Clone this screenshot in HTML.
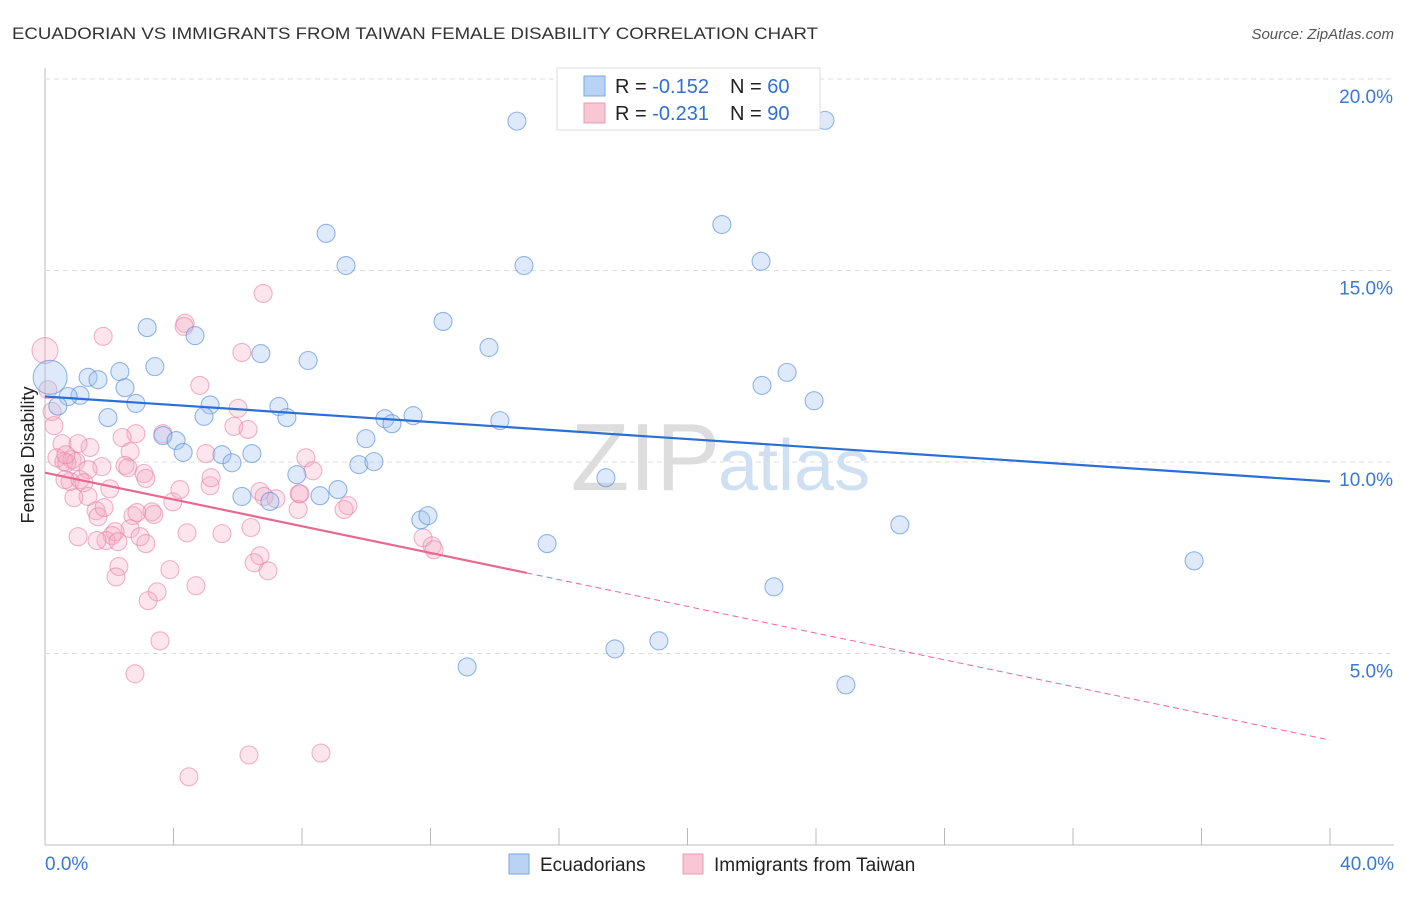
<!DOCTYPE html>
<html><head><meta charset="utf-8"><style>
body{margin:0;background:#fff;font-family:"Liberation Sans",sans-serif;}
svg text{font-family:"Liberation Sans",sans-serif;}
</style></head><body>
<svg id="chart" width="1406" height="892" xmlns="http://www.w3.org/2000/svg">
<text x="12" y="39" font-size="17" fill="#333" textLength="806" lengthAdjust="spacingAndGlyphs">ECUADORIAN VS IMMIGRANTS FROM TAIWAN FEMALE DISABILITY CORRELATION CHART</text>
<text x="1394" y="39" font-size="15" fill="#555" text-anchor="end" font-style="italic">Source: ZipAtlas.com</text>
<text x="34" y="455" font-size="18" fill="#222" text-anchor="middle" transform="rotate(-90 34 455)">Female Disability</text>
<g id="grid"></g>
<text x="720" y="490" font-size="96" fill="#ddd" text-anchor="end" font-family="Liberation Serif">ZIP</text>
<text x="718" y="490" font-size="72" fill="#d0e0f3">atlas</text>
<g id="points"></g>
<g id="lines"></g>
<g>
<rect x="557" y="68" width="263" height="62" fill="#fff" stroke="#ddd"/>
<rect x="584" y="76" width="21" height="20" fill="#b9d3f5" stroke="#7fa6e0"/>
<rect x="584" y="103" width="21" height="20" fill="#f9c6d6" stroke="#ec9ab3"/>
<text x="615" y="93" font-size="20" fill="#222">R = <tspan fill="#2f6fd6">-0.152</tspan></text>
<text x="730" y="93" font-size="20" fill="#222">N = <tspan fill="#2f6fd6">60</tspan></text>
<text x="615" y="120" font-size="20" fill="#222">R = <tspan fill="#2f6fd6">-0.231</tspan></text>
<text x="730" y="120" font-size="20" fill="#222">N = <tspan fill="#2f6fd6">90</tspan></text>
</g>
<g>
<rect x="509" y="854" width="20" height="20" fill="#b9d3f5" stroke="#7fa6e0"/>
<text x="540" y="871" font-size="19" fill="#222">Ecuadorians</text>
<rect x="683" y="854" width="20" height="20" fill="#f9c6d6" stroke="#ec9ab3"/>
<text x="714" y="871" font-size="19" fill="#222">Immigrants from Taiwan</text>
</g>
</svg>
<script>
const xTicks=[0,4,8,12,16,20,24,28,32,36,40];
const yTicks=[5,10,15,20];
const yTickLabels=["5.0%","10.0%","15.0%","20.0%"];
const blueX=[14.69,24.28,21.07,8.75,9.37,14.91,22.29,3.18,4.67,12.39,13.82,6.72,8.19,3.42,1.34,1.65,2.33,2.49,1.09,0.72,2.83,0.40,1.96,5.14,4.95,23.10,22.32,23.94,7.28,7.53,10.58,10.80,11.46,14.16,3.67,4.08,4.30,5.51,6.44,5.82,9.99,9.77,10.24,7.84,17.46,8.56,9.12,6.13,7.00,11.70,11.92,26.61,15.63,35.77,22.69,19.11,17.74,13.14,24.93,0.16];
const blueY=[18.90,18.92,16.20,15.97,15.13,15.13,15.24,13.51,13.30,13.67,12.99,12.83,12.65,12.49,12.21,12.15,12.36,11.94,11.74,11.71,11.53,11.46,11.16,11.49,11.19,12.34,12.00,11.60,11.45,11.16,11.13,11.00,11.21,11.08,10.69,10.56,10.25,10.19,10.22,9.98,10.61,9.93,10.01,9.67,9.59,9.12,9.28,9.10,8.97,8.49,8.60,8.36,7.87,7.42,6.74,5.33,5.12,4.65,4.18,12.21];
const pinkX=[6.79,1.81,4.36,4.33,6.13,4.82,0.0,0.09,0.22,0.28,2.83,2.40,0.53,1.40,1.03,0.37,0.59,0.84,0.68,0.96,2.65,5.01,5.88,6.32,8.12,8.34,1.77,1.34,2.49,2.58,3.08,3.14,0.78,0.62,1.09,1.21,2.02,1.34,0.90,3.98,5.14,6.69,6.82,7.91,9.43,9.31,1.59,1.65,1.84,2.74,2.86,3.33,3.39,2.65,2.18,2.09,1.90,1.03,1.62,2.27,2.96,3.14,4.42,5.51,6.41,7.88,11.77,12.05,12.11,6.69,6.51,6.94,3.89,2.30,2.21,4.70,3.49,3.21,3.58,2.80,4.48,6.35,8.59,7.19,7.94,5.17,6.01,3.67,4.20,0.65];
const pinkY=[14.40,13.28,13.62,13.54,12.86,12.00,12.91,11.89,11.32,10.95,10.74,10.64,10.48,10.38,10.48,10.11,10.01,10.06,9.98,10.01,10.27,10.22,10.93,10.85,10.11,9.77,9.88,9.80,9.91,9.85,9.70,9.57,9.49,9.54,9.54,9.46,9.30,9.10,9.07,8.96,9.38,9.23,9.10,9.17,8.86,8.76,8.73,8.57,8.81,8.60,8.68,8.70,8.63,8.26,8.18,8.08,7.95,8.05,7.95,7.92,8.05,7.87,8.15,8.13,8.29,8.76,8.02,7.81,7.71,7.55,7.37,7.16,7.19,7.27,7.00,6.77,6.61,6.38,5.33,4.47,1.78,2.35,2.40,9.04,9.17,9.59,11.40,10.74,9.28,10.19];
const blueTrend=[11.71,9.49];
const pinkTrend=[9.72,2.74];
const pinkSolidEnd=15.0;

const NS="http://www.w3.org/2000/svg";
const X=v=>45+v/40*1285;
const Y=v=>845-v/20*766;
function mk(tag,attrs,parent){const e=document.createElementNS(NS,tag);for(const k in attrs)e.setAttribute(k,attrs[k]);parent.appendChild(e);return e;}
const grid=document.getElementById('grid');
mk('line',{x1:45,y1:68,x2:45,y2:845,stroke:'#bbb'},grid);
mk('line',{x1:45,y1:845,x2:1394,y2:845,stroke:'#bbb'},grid);
yTicks.forEach((t,i)=>{
  const l=mk('line',{x1:45,y1:Y(t),x2:1394,y2:Y(t),stroke:'#ddd','stroke-dasharray':'5,4'},grid);
  
  
  const tx=mk('text',{x:1393,y:Y(t)+24,'font-size':19,fill:'#3a78d8','text-anchor':'end'},grid);
  tx.textContent=yTickLabels[i];
  
  
});
xTicks.forEach(t=>{
  const l=mk('line',{x1:X(t),y1:828,x2:X(t),y2:845,stroke:'#bbb'},grid);
  
  
});
const t0=mk('text',{x:45,y:870,'font-size':19,fill:'#3a78d8'},grid);t0.textContent='0.0%';


const t1=mk('text',{x:1394,y:870,'font-size':19,fill:'#3a78d8','text-anchor':'end'},grid);t1.textContent='40.0%';



const pts=document.getElementById('points');
pinkX.forEach((x,i)=>{
  const big=i===6;
  const c=mk('circle',{cx:X(x),cy:Y(pinkY[i]),r:big?13:9,fill:'rgba(244,170,195,0.3)',stroke:'rgba(232,130,165,0.6)','stroke-width':1.1},pts);
  
  
});
blueX.forEach((x,i)=>{
  const big=i===blueX.length-1;
  const c=mk('circle',{cx:X(x),cy:Y(blueY[i]),r:big?17:9,fill:'rgba(160,195,240,0.35)',stroke:'rgba(90,145,220,0.65)','stroke-width':1.1},pts);
  
  
});
const lines=document.getElementById('lines');
const bl=mk('line',{x1:X(0),y1:Y(blueTrend[0]),x2:X(40),y2:Y(blueTrend[1]),stroke:'#2a6fd6','stroke-width':2.2},lines);


const pm=pinkTrend[0]+(pinkTrend[1]-pinkTrend[0])*pinkSolidEnd/40;
const pl=mk('line',{x1:X(0),y1:Y(pinkTrend[0]),x2:X(pinkSolidEnd),y2:Y(pm),stroke:'#e8698f','stroke-width':2.2},lines);


const pd=mk('line',{x1:X(pinkSolidEnd),y1:Y(pm),x2:X(40),y2:Y(pinkTrend[1]),stroke:'#e8698f','stroke-width':1,'stroke-dasharray':'6,4'},lines);


</script>
</body></html>
